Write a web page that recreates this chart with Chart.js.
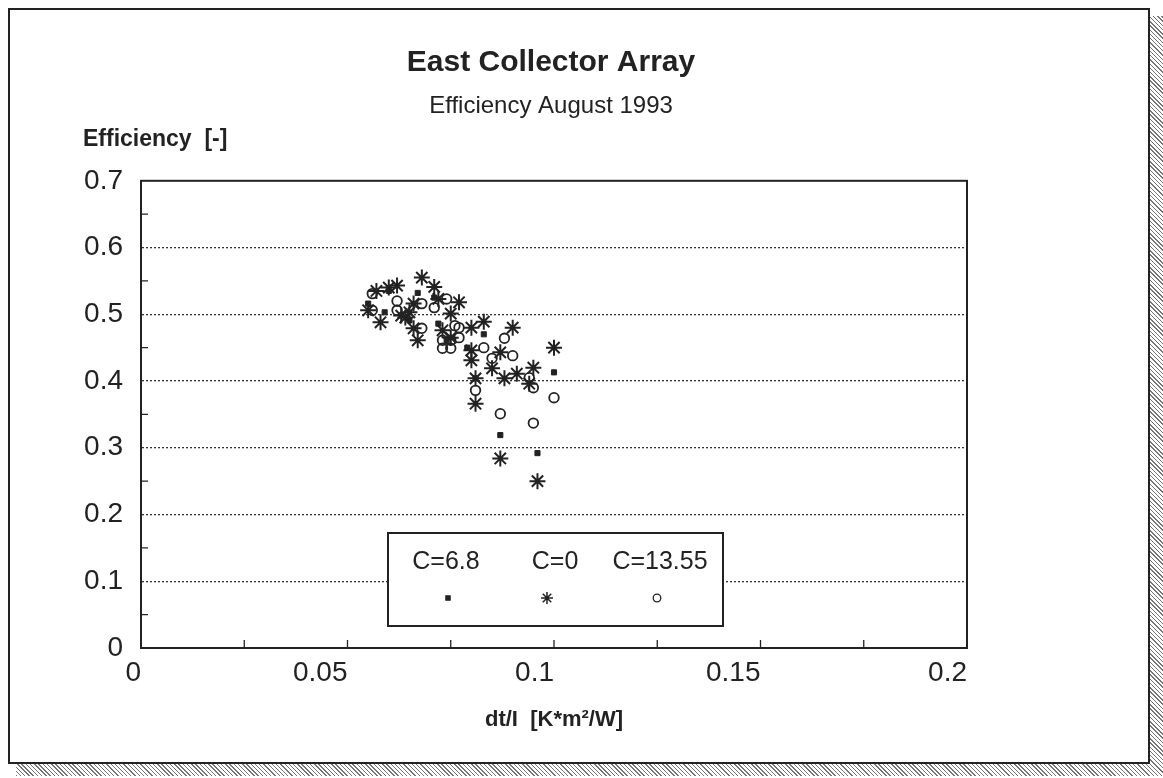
<!DOCTYPE html>
<html><head><meta charset="utf-8">
<script src="https://cdn.jsdelivr.net/npm/chart.js@4/dist/chart.umd.min.js"></script>
<style>
html,body{margin:0;padding:0;background:#fff;}
#wrap{position:relative;width:1163px;height:778px;overflow:hidden;background:#fff;}
#shadow{position:absolute;left:16px;top:16px;width:1147px;height:760px;background:repeating-linear-gradient(45deg,#777 0 1px,#fff 1px 3px);}
#frame{position:absolute;left:8px;top:8px;width:1138px;height:752px;border:2px solid #222;background:#fff;}
canvas{position:absolute;left:0;top:0;}
</style></head>
<body><div id="wrap"><div id="shadow"></div><div id="frame"></div><canvas id="c" width="1163" height="778"></canvas></div>
<script>
const titleText = 'East Collector Array';
const subtitleText = 'Efficiency August 1993';
const yAxisLabel = 'Efficiency  [-]';
const xAxisLabel = 'dt/I  [K*m\u00B2/W]';
const seriesNames = ['C=6.8', 'C=0', 'C=13.55'];
const xTickLabels = ['0', '0.05', '0.1', '0.15', '0.2'];
const yTickLabels = ['0', '0.1', '0.2', '0.3', '0.4', '0.5', '0.6', '0.7'];

// C=6.8 (small filled squares)
const c68X = [0.067,0.071,0.055,0.059,0.072,0.074,0.083,0.100,0.087,0.096,0.079,0.081,0.060,0.065];
const c68Y = [0.532,0.525,0.516,0.503,0.486,0.461,0.470,0.413,0.319,0.292,0.450,0.404,0.535,0.491];
// C=0 (asterisks)
const c0X = [0.068,0.071,0.060,0.057,0.077,0.072,0.066,0.058,0.064,0.067,0.066,0.075,0.073,0.075,0.083,0.080,0.090,0.100,0.080,0.080,0.087,0.085,0.081,0.088,0.091,0.095,0.094,0.081,0.087,0.096,0.055,0.062,0.063,0.065];
const c0Y = [0.555,0.541,0.540,0.535,0.518,0.523,0.516,0.488,0.495,0.461,0.479,0.501,0.476,0.465,0.489,0.480,0.480,0.450,0.446,0.431,0.443,0.419,0.404,0.404,0.411,0.420,0.396,0.366,0.284,0.250,0.506,0.543,0.498,0.503];
// C=13.55 (open circles)
const c1355X = [0.056,0.056,0.062,0.068,0.068,0.071,0.074,0.076,0.073,0.073,0.075,0.075,0.062,0.083,0.088,0.085,0.090,0.081,0.094,0.095,0.100,0.087,0.095,0.077,0.077];
const c1355Y = [0.531,0.506,0.520,0.516,0.479,0.510,0.523,0.483,0.461,0.449,0.449,0.461,0.506,0.450,0.464,0.434,0.438,0.386,0.405,0.390,0.375,0.351,0.337,0.480,0.465];

const xMinorTicks = [0.025,0.05,0.075,0.1,0.125,0.15,0.175];
const yMinorTicks = [0.05,0.15,0.25,0.35,0.45,0.55,0.65];

const FONT = "'Liberation Sans', Arial, Helvetica, sans-serif";
const INK = '#222';

function pts(xs, ys){ return xs.map((x,i)=>({x:x, y:ys[i]})); }

const datasets = [
  {label: seriesNames[0], data: pts(c68X,c68Y), pointStyle:'rect', pointRadius:3.6, backgroundColor:INK, borderColor:INK, borderWidth:1},
  {label: seriesNames[1], data: pts(c0X,c0Y), pointStyle:'star', pointRadius:8, backgroundColor:INK, borderColor:INK, borderWidth:2},
  {label: seriesNames[2], data: pts(c1355X,c1355Y), pointStyle:'circle', pointRadius:4.8, backgroundColor:'rgba(0,0,0,0)', borderColor:INK, borderWidth:1.8}
];

const decorPlugin = {
  id: 'decor',
  afterDatasetsDraw(chart){
    const ctx = chart.ctx, a = chart.chartArea;
    const xs = chart.scales.x, ys = chart.scales.y;
    ctx.save();
    ctx.strokeStyle = INK;
    ctx.lineWidth = 2;
    ctx.strokeRect(a.left, a.top, a.right - a.left, a.bottom - a.top);
    ctx.lineWidth = 1.3;
    ctx.beginPath();
    yMinorTicks.forEach(v => { const p = ys.getPixelForValue(v); ctx.moveTo(a.left, p); ctx.lineTo(a.left + 7, p); });
    xMinorTicks.forEach(v => { const p = xs.getPixelForValue(v); ctx.moveTo(p, a.bottom); ctx.lineTo(p, a.bottom - 8); });
    ctx.stroke();

    // y axis label (horizontal, above axis)
    ctx.fillStyle = INK;
    ctx.font = "bold 23px " + FONT;
    ctx.textAlign = 'left';
    ctx.textBaseline = 'alphabetic';
    ctx.fillText(yAxisLabel, 83, 146);

    // legend box
    const bx = 388, by = 533, bw = 335, bh = 93;
    ctx.fillStyle = '#fff';
    ctx.fillRect(bx, by, bw, bh);
    ctx.lineWidth = 2;
    ctx.strokeStyle = INK;
    ctx.strokeRect(bx, by, bw, bh);
    const cols = [446, 555, 660];
    ctx.font = "25px " + FONT;
    ctx.textAlign = 'center';
    ctx.textBaseline = 'middle';
    chart.data.datasets.forEach((ds, i) => {
      ctx.fillStyle = INK;
      ctx.fillText(ds.label, cols[i], 562);
      ctx.fillStyle = ds.backgroundColor;
      ctx.strokeStyle = ds.borderColor;
      ctx.lineWidth = i === 1 ? 1.5 : 1.3;
      const r = i === 1 ? 6 : (i === 2 ? 3.8 : 3);
      Chart.helpers.drawPoint(ctx, {pointStyle: ds.pointStyle, radius: r, borderWidth: ctx.lineWidth, rotation: 0}, cols[i] + (i===0?2:(i===1?-8:-3)), 598);
    });
    ctx.restore();
  }
};

new Chart(document.getElementById('c'), {
  type: 'scatter',
  data: { datasets },
  options: {
    responsive: false,
    animation: false,
    layout: { padding: { left: 0, right: 61, top: 0, bottom: 0 } },
    plugins: {
      legend: { display: false },
      tooltip: { enabled: false },
      title: { display: true, text: titleText, color: INK, font: { family: FONT, size: 30, weight: 'bold', lineHeight: 1.2 }, padding: { top: 45, bottom: 0 } },
      subtitle: { display: true, text: subtitleText, color: INK, font: { family: FONT, size: 24, weight: 'normal', lineHeight: 1.2 }, padding: { top: 11, bottom: 60 } }
    },
    scales: {
      x: {
        type: 'linear', min: 0, max: 0.2,
        afterFit(s){ s.height = 130; },
        ticks: { stepSize: 0.05, align: 'end', color: INK, padding: 8, font: { family: FONT, size: 28 }, maxRotation: 0,
                 callback: (v, i) => xTickLabels[i] },
        grid: { display: false, drawTicks: false },
        border: { display: true, color: INK, width: 2 },
        title: { display: true, text: xAxisLabel, color: INK, font: { family: FONT, size: 22, weight: 'bold', lineHeight: 1.2 }, padding: { top: 0, bottom: 45 } }
      },
      y: {
        type: 'linear', min: 0, max: 0.7,
        afterFit(s){ s.width = 141; },
        ticks: { stepSize: 0.1, color: INK, padding: 18, font: { family: FONT, size: 28 },
                 callback: (v, i) => yTickLabels[i] },
        grid: { drawTicks: false, color: (c) => (c.index === 0 || c.index === 7) ? 'rgba(0,0,0,0)' : '#333', lineWidth: 1.3 },
        border: { display: true, color: INK, width: 2, dash: [2, 2] }
      },
      yRight: {
        type: 'linear', position: 'right', min: 0, max: 0.7,
        afterFit(s){ s.width = 135; },
        ticks: { display: false },
        grid: { display: false, drawTicks: false },
        border: { display: false }
      }
    }
  },
  plugins: [decorPlugin]
});
</script>
</body></html>
